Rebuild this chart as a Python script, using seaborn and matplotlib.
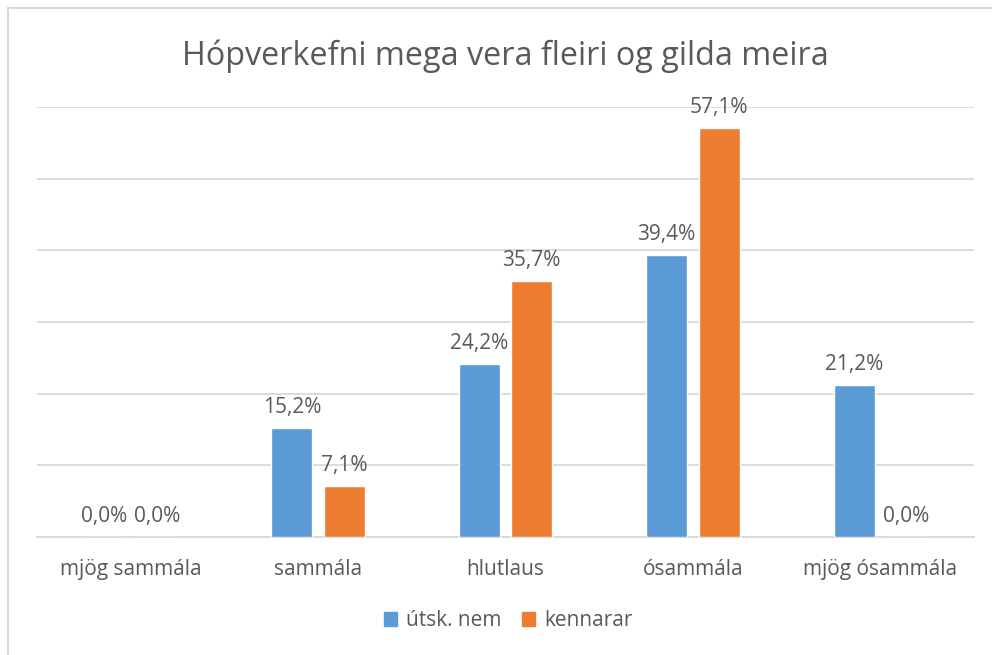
import pandas as pd
import seaborn as sns
import matplotlib.pyplot as plt
from matplotlib.patches import Rectangle


CATEGORIES = ['mjög sammála', 'sammála', 'hlutlaus', 'ósammála', 'mjög ósammála']
UTSK_NEM = [0.0, 15.2, 24.2, 39.4, 21.2]
KENNARAR = [0.0, 7.1, 35.7, 57.1, 0.0]
SERIES = ['útsk. nem', 'kennarar']

COLORS = {'útsk. nem': '#5B9BD5', 'kennarar': '#ED7D31'}
TXT = '#595959'
GRID = '#D9D9D9'


df = pd.DataFrame({
    'svar': CATEGORIES * 2,
    'hlutfall': UTSK_NEM + KENNARAR,
    'hópur': [SERIES[0]] * len(CATEGORIES) + [SERIES[1]] * len(CATEGORIES),
})

sns.set_style('white')
plt.rcParams['font.family'] = ['Open Sans', 'DejaVu Sans']

fig = plt.figure(figsize=(9.92, 6.55), dpi=100)
ax = fig.add_axes([37 / 992, 1 - 537 / 655, 937 / 992, 430 / 655])

sns.barplot(data=df, x='svar', y='hlutfall', hue='hópur', order=CATEGORIES,
            hue_order=SERIES, palette=COLORS, width=0.56, gap=0.22,
            saturation=1, ax=ax, zorder=3)

for cont in ax.containers:
    labels = [f"{b.get_height():.1f}%".replace('.', ',') for b in cont]
    ax.bar_label(cont, labels=labels, padding=7, fontsize=15, color=TXT)

ax.set_ylim(0, 60)
ax.set_xlim(-0.5, 4.5)
ax.set_yticks(range(0, 61, 10))
ax.set_yticklabels([])
ax.yaxis.grid(True, color=GRID, lw=1.3, zorder=0)
ax.set_xlabel('')
ax.set_ylabel('')
for s in ['top', 'left', 'right']:
    ax.spines[s].set_visible(False)
ax.spines['bottom'].set_color(GRID)
ax.spines['bottom'].set_linewidth(1.3)
ax.tick_params(axis='x', length=0, pad=16, labelsize=15, labelcolor=TXT)
ax.tick_params(axis='y', length=0)

ax.legend_.remove()
handles = [Rectangle((0, 0), 1, 1, color=COLORS[s]) for s in SERIES]
fig.legend(handles, SERIES, loc='center', bbox_to_anchor=(508 / 992, 1 - 621 / 655),
           ncol=2, frameon=False, fontsize=15, labelcolor=TXT,
           handlelength=0.65, handleheight=0.65, handletextpad=0.4,
           columnspacing=1.0)

fig.text(505 / 992, 1 - 56 / 655, 'Hópverkefni mega vera fleiri og gilda meira',
         ha='center', va='center', fontsize=23.3, color=TXT)

fig.patches.append(Rectangle((7.5 / 992, -0.1), 1.2, 1 - 7.5 / 655 + 0.1,
                             transform=fig.transFigure, fill=False,
                             edgecolor=GRID, lw=1.5))

fig.savefig('out.png', dpi=100)
